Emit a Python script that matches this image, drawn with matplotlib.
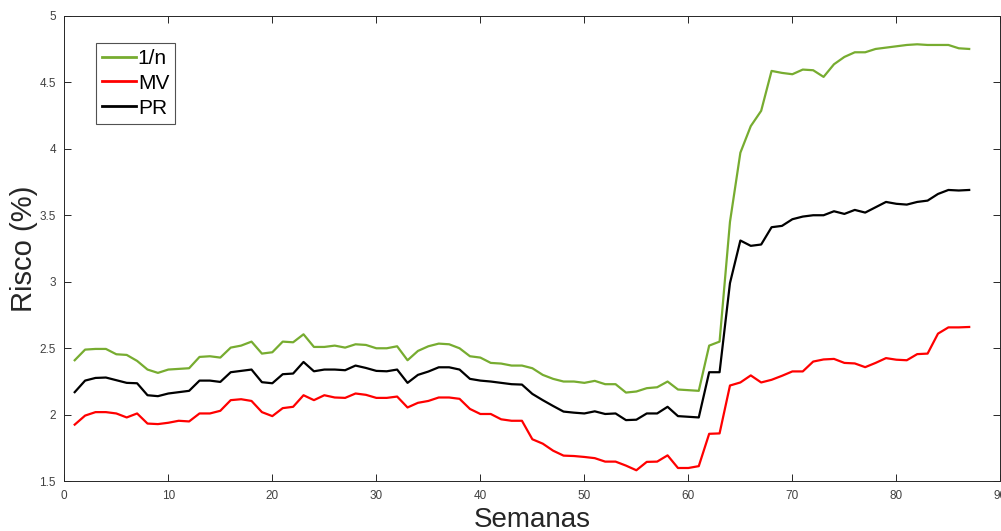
import matplotlib

matplotlib.use("Agg")
import matplotlib.pyplot as plt

plt.rcParams["font.family"] = ["Liberation Sans", "DejaVu Sans"]

# Weekly risk (%) per strategy
semanas = list(range(1, 88))

risco_1n = [
    2.41, 2.49, 2.495, 2.495, 2.455, 2.45, 2.405, 2.34, 2.315, 2.34,
    2.345, 2.35, 2.435, 2.44, 2.43, 2.505, 2.52, 2.55, 2.46, 2.47,
    2.55, 2.545, 2.605, 2.51, 2.51, 2.52, 2.505, 2.53, 2.525, 2.50,
    2.50, 2.515, 2.41, 2.48, 2.515, 2.535, 2.53, 2.50, 2.44, 2.43,
    2.39, 2.385, 2.37, 2.37, 2.35, 2.30, 2.27, 2.25, 2.25, 2.24,
    2.255, 2.23, 2.23, 2.167, 2.175, 2.20, 2.207, 2.25, 2.19, 2.185,
    2.18, 2.52, 2.55, 3.45, 3.97, 4.17, 4.285, 4.585, 4.57, 4.56,
    4.595, 4.59, 4.54, 4.635, 4.69, 4.725, 4.725, 4.75, 4.76, 4.77,
    4.78, 4.785, 4.78, 4.78, 4.78, 4.755, 4.75,
]

risco_mv = [
    1.926, 1.994, 2.02, 2.02, 2.01, 1.98, 2.01, 1.934, 1.93, 1.94,
    1.955, 1.95, 2.01, 2.01, 2.03, 2.11, 2.117, 2.104, 2.02, 1.99,
    2.05, 2.06, 2.147, 2.11, 2.147, 2.13, 2.127, 2.16, 2.15, 2.127,
    2.127, 2.137, 2.055, 2.09, 2.104, 2.13, 2.13, 2.12, 2.044, 2.006,
    2.006, 1.966, 1.955, 1.955, 1.816, 1.783, 1.73, 1.693, 1.69, 1.683,
    1.674, 1.648, 1.648, 1.618, 1.583, 1.646, 1.648, 1.695, 1.60, 1.60,
    1.614, 1.857, 1.86, 2.22, 2.243, 2.296, 2.243, 2.263, 2.293, 2.326,
    2.326, 2.40, 2.416, 2.42, 2.39, 2.386, 2.358, 2.39, 2.426, 2.414,
    2.41, 2.456, 2.46, 2.61, 2.657, 2.657, 2.66,
]

risco_pr = [
    2.17, 2.257, 2.277, 2.28, 2.26, 2.24, 2.237, 2.147, 2.14, 2.16,
    2.17, 2.18, 2.257, 2.257, 2.247, 2.32, 2.33, 2.34, 2.245, 2.237,
    2.305, 2.31, 2.397, 2.327, 2.34, 2.34, 2.335, 2.37, 2.352, 2.33,
    2.327, 2.34, 2.24, 2.30, 2.325, 2.357, 2.357, 2.34, 2.27, 2.257,
    2.25, 2.24, 2.23, 2.227, 2.157, 2.11, 2.066, 2.024, 2.016, 2.01,
    2.026, 2.006, 2.01, 1.96, 1.963, 2.01, 2.01, 2.06, 1.99, 1.985,
    1.98, 2.32, 2.32, 2.99, 3.31, 3.27, 3.28, 3.41, 3.42, 3.47,
    3.49, 3.50, 3.50, 3.53, 3.51, 3.54, 3.52, 3.56, 3.60, 3.586,
    3.58, 3.60, 3.61, 3.66, 3.69, 3.686, 3.69,
]

W, H = 1001, 531
fig = plt.figure(figsize=(W / 100, H / 100), dpi=100)
left, right = 64.3 / W, 1000.4 / W
top, bottom = 1 - 15.7 / H, 1 - 481.3 / H
ax = fig.add_axes([left, bottom, right - left, top - bottom])

ax.plot(semanas, risco_1n, color="#77AC30", lw=1.6, label="1/n")
ax.plot(semanas, risco_mv, color="#FF0000", lw=1.6, label="MV")
ax.plot(semanas, risco_pr, color="#000000", lw=1.6, label="PR")

ax.set_xlim(0, 90)
ax.set_ylim(1.5, 5)
ax.set_xticks(range(0, 91, 10))
ax.set_yticks([1.5, 2, 2.5, 3, 3.5, 4, 4.5, 5])
ax.set_yticklabels(["1.5", "2", "2.5", "3", "3.5", "4", "4.5", "5"])

axis_col = "#262626"
for s in ax.spines.values():
    s.set_color(axis_col)
    s.set_linewidth(0.7)
ax.tick_params(direction="in", length=5, width=0.7, color=axis_col,
               labelcolor="#404040", labelsize=8.5, top=True, right=True, pad=6)

ax.set_xlabel("Semanas", fontsize=20, color="#262626", labelpad=4)
ax.set_ylabel("Risco (%)", fontsize=21, color="#262626", labelpad=1)

leg = ax.legend(loc="upper left", bbox_to_anchor=(0.034, 0.942), fontsize=15,
                frameon=True, fancybox=False, handlelength=1.6,
                handletextpad=0.1, borderpad=0.3, labelspacing=0.28,
                borderaxespad=0)
leg.get_frame().set_edgecolor("#262626")
leg.get_frame().set_linewidth(0.8)
for h in leg.get_lines():
    h.set_linewidth(2)

fig.savefig("out.png", dpi=100)
